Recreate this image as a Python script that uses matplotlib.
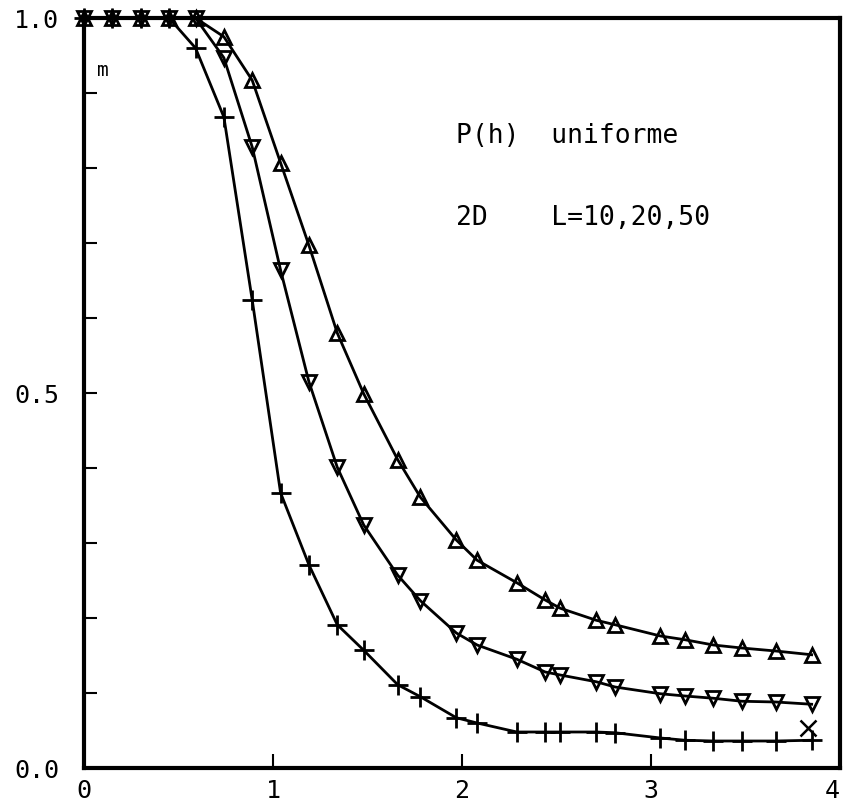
import matplotlib
matplotlib.use("Agg")
import matplotlib.pyplot as plt

# x positions (h / field values)
x_vals = [0.0, 0.15, 0.30, 0.45, 0.59, 0.74, 0.89, 1.04, 1.19, 1.34, 1.48, 1.66, 1.78,
          1.97, 2.08, 2.29, 2.44, 2.52, 2.71, 2.81, 3.05, 3.18, 3.33, 3.48, 3.66, 3.85]

# L=10 (triangle up)
m_L10 = [1.0, 1.0, 1.0, 1.0, 1.0, 0.975, 0.917, 0.807, 0.697, 0.580, 0.499, 0.411, 0.361,
         0.304, 0.277, 0.247, 0.224, 0.213, 0.197, 0.191, 0.176, 0.171, 0.164, 0.160, 0.156, 0.151]
# L=20 (triangle down)
m_L20 = [1.0, 1.0, 1.0, 1.0, 1.0, 0.947, 0.828, 0.664, 0.515, 0.401, 0.324, 0.257, 0.223,
         0.180, 0.164, 0.145, 0.128, 0.124, 0.115, 0.108, 0.099, 0.096, 0.093, 0.089, 0.088, 0.085]
# L=50 (plus)
m_L50 = [1.0, 1.0, 1.0, 1.0, 0.960, 0.868, 0.624, 0.367, 0.271, 0.191, 0.157, 0.111, 0.095,
         0.067, 0.060, 0.048, 0.048, 0.048, 0.048, 0.047, 0.040, 0.037, 0.036, 0.036, 0.036, 0.037]

# isolated cross marker
x_cross = [3.83]
m_cross = [0.053]

x_ticks = [0, 1, 2, 3, 4]
x_ticklabels = ["0", "1", "2", "3", "4"]
y_ticklabels = {0.0: "0.0", 0.5: "0.5", 1.0: "1.0"}

mono = ["DejaVu Sans Mono"]

fig = plt.figure(figsize=(8.43, 8.05), dpi=100)
ax = fig.add_axes([84 / 843, 1 - 768 / 805, (840 - 84) / 843, (768 - 18) / 805])

ax.plot(x_vals, m_L10, color="black", lw=2, marker="^", ms=9.5, mfc="none", mew=2, clip_on=False)
ax.plot(x_vals, m_L20, color="black", lw=2, marker="v", ms=9.5, mfc="none", mew=2, clip_on=False)
ax.plot(x_vals, m_L50, color="black", lw=2, marker="+", ms=14, mew=2, clip_on=False)
ax.plot(x_cross, m_cross, ls="none", color="black", marker="x", ms=11, mew=1.8)

ax.set_xlim(0, 4)
ax.set_ylim(0, 1)

for s in ax.spines.values():
    s.set_linewidth(3)

ax.set_xticks(x_ticks)
ax.set_xticklabels(x_ticklabels, fontsize=18, family=mono)
ax.get_xticklabels()[-1].set_horizontalalignment("right")
ax.set_yticks([i / 10 for i in range(11)])
ax.set_yticklabels([y_ticklabels.get(round(i / 10, 1), "") for i in range(11)],
                   fontsize=18, family=mono)
ax.tick_params(axis="x", direction="in", length=10, width=1.5, pad=8)
ax.tick_params(axis="y", direction="in", length=9, width=1.5, pad=18)

ax.text(0.07, 0.93, "m", fontsize=14, family=mono, va="center", ha="left")
ax.text(1.97, 0.843, "P(h)  uniforme", fontsize=19, family=mono, va="center", ha="left")
ax.text(1.97, 0.733, "2D    L=10,20,50", fontsize=19, family=mono, va="center", ha="left")

fig.savefig("out.png", dpi=100)
